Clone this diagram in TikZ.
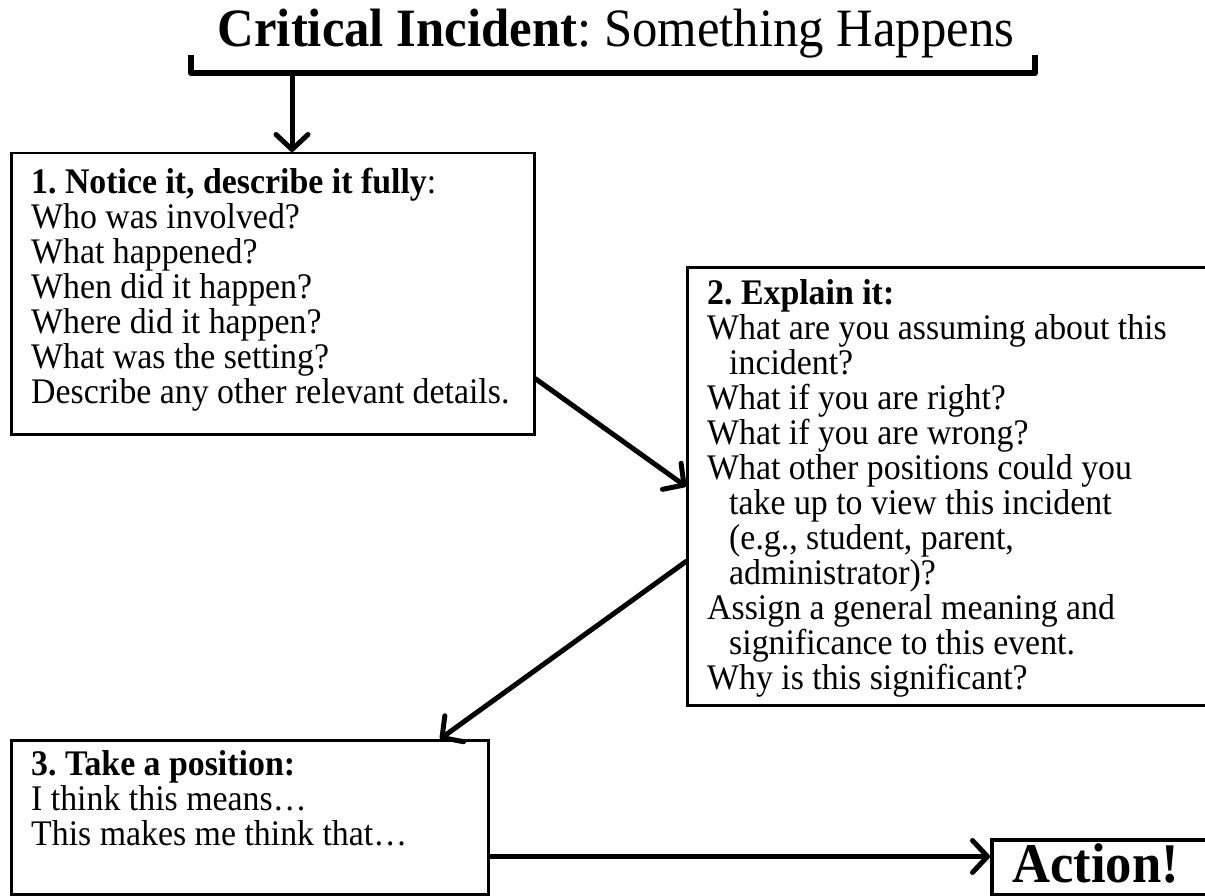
\documentclass[tikz,border=0pt]{standalone}
\usepackage{fontspec}
\setmainfont{Liberation Serif}[FakeStretch=0.94]
\usetikzlibrary{arrows.meta, positioning, calc}
\frenchspacing

\begin{document}
\begin{tikzpicture}[x=1pt, y=-1pt, >={Straight Barb[length=15pt,width=32pt,round]},
  stepbox/.style={draw, line width=2.5pt, inner sep=0pt, anchor=north west},
  boxtext/.style={anchor=north west, inner sep=0pt, align=left, font=\fontsize{36}{35}\selectfont},
  bigtext/.style={font=\fontsize{54}{58}\selectfont},
  arr/.style={->, line width=5pt, line cap=round}]
\useasboundingbox (0,0) rectangle (1205,896);
\clip (0,0) rectangle (1205,896);

\node[bigtext, anchor=base] (title) at (616,47) {\textbf{Critical Incident}: Something Happens};
\coordinate (brL) at (191,55);
\coordinate (brR) at (1035,55);
\coordinate (brM) at (292,73);
\draw[line width=6pt, line join=round] (brL) |- (brM) -| (brR);

\node[stepbox, minimum width=523pt, minimum height=281pt] (box1) at (10,152) {};
\node[boxtext] (txt1) at ([shift={(21pt,-16pt)}]box1.north west)
  {\textbf{1. Notice it, describe it fully}:\\
   Who was involved?\\
   What happened?\\
   When did it happen?\\
   Where did it happen?\\
   What was the setting?\\
   Describe any other relevant details.};

\node[stepbox, line width=3pt, minimum width=540pt, minimum height=438pt] (box2) at (686,266) {};
\node[boxtext] (txt2) at ([shift={(21pt,-13pt)}]box2.north west)
  {\textbf{2. Explain it:}\\
   What are you assuming about this\\
   \hspace*{22pt}incident?\\
   What if you are right?\\
   What if you are wrong?\\
   What other positions could you\\
   \hspace*{22pt}take up to view this incident\\
   \hspace*{22pt}(e.g., student, parent,\\
   \hspace*{22pt}administrator)?\\
   Assign a general meaning and\\
   \hspace*{22pt}significance to this event.\\
   Why is this significant?};

\node[stepbox, line width=3pt, minimum width=477pt, minimum height=154pt] (box3) at (10,739) {};
\node[boxtext] (txt3) at ([shift={(21pt,-11pt)}]box3.north west)
  {\textbf{3. Take a position:}\\
   I think this means…\\
   This makes me think that…};

\node[stepbox, line width=4pt, minimum width=240pt, minimum height=55pt] (action) at (990,838) {};
\node[anchor=base west, inner sep=0pt, font=\fontsize{56}{58}\selectfont] (acttxt)
  at ([shift={(22pt,-44pt)}]action.north west) {\textbf{Action!}};

\draw[arr] (brM) -- (brM |- box1.north);
\draw[arr] ([yshift=-85pt]box1.east) -- (box2.west);
\draw[arr] ([yshift=-75pt]box2.west) -- ([xshift=-50pt]box3.north east);
\draw[arr] ([yshift=-39pt]box3.east) coordinate (a3) -- (a3 -| action.west);
\end{tikzpicture}
\end{document}
